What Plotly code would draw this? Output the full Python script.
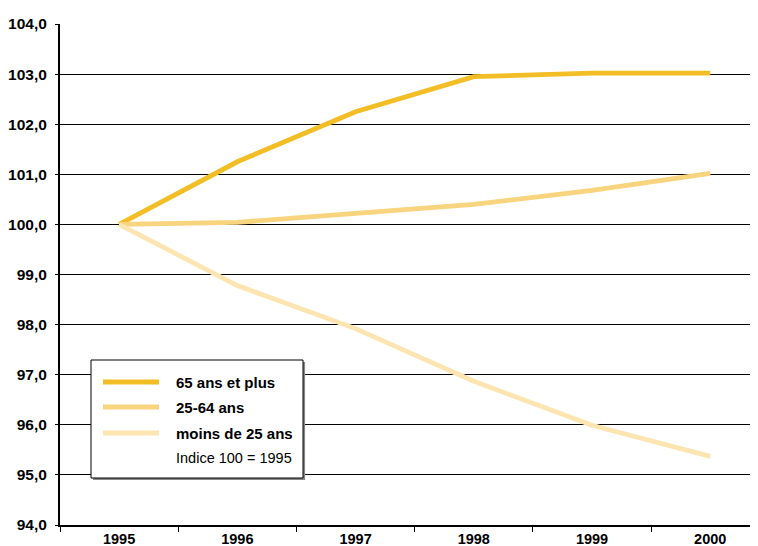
import plotly.graph_objects as go

years = ["1995", "1996", "1997", "1998", "1999", "2000"]
plus65 = [100.0, 101.25, 102.25, 102.95, 103.02, 103.02]
age25_64 = [100.0, 100.04, 100.22, 100.40, 100.68, 101.02]
moins25 = [100.0, 98.78, 97.92, 96.87, 95.99, 95.37]
ytick_vals = [94, 95, 96, 97, 98, 99, 100, 101, 102, 103, 104]
legend_note = "Indice 100 = 1995"

series = [
    ("65 ans et plus", plus65, "#F2BD25"),
    ("25-64 ans", age25_64, "#F9D47E"),
    ("moins de 25 ans", moins25, "#FCE5B0"),
]

# page is rendered with an 8px body margin; compensate
OFF = 8
PL, PR, PT, PB = 60, 758, 24, 525  # plot area in screen px


def px(sx, sy):
    return (sx - PL) / (PR - PL), (PB - sy) / (PB - PT)


fig = go.Figure()
for name, vals, col in series:
    fig.add_trace(go.Scatter(x=years, y=vals, name=name, mode="lines",
                             line=dict(color=col, width=4.8), showlegend=False))

# manual legend box
x0, y0 = px(91, 360)
x1, y1 = px(303, 478)
fig.add_shape(type="rect", xref="paper", yref="paper", x0=x0 + 0.003, y0=y1 - 0.004,
              x1=x1 + 0.003, y1=y0 - 0.004, line=dict(width=0), fillcolor="#888888")
fig.add_shape(type="rect", xref="paper", yref="paper", x0=x0, y0=y1, x1=x1, y1=y0,
              line=dict(color="black", width=1), fillcolor="white")
rows_y = [382, 407, 433, 458]
for (name, vals, col), ry in zip(series, rows_y):
    lx0, ly = px(103, ry)
    lx1, _ = px(159, ry)
    fig.add_shape(type="line", xref="paper", yref="paper", x0=lx0, x1=lx1, y0=ly, y1=ly,
                  line=dict(color=col, width=5))
    tx, ty = px(174, ry)
    fig.add_annotation(xref="paper", yref="paper", x=tx, y=ty, text="<b>" + name + "</b>",
                       showarrow=False, xanchor="left", yanchor="middle",
                       font=dict(size=15, color="black"))
tx, ty = px(174, rows_y[3])
fig.add_annotation(xref="paper", yref="paper", x=tx, y=ty, text=legend_note,
                   showarrow=False, xanchor="left", yanchor="middle",
                   font=dict(size=14.5, color="black"))

fig.update_layout(
    width=758, height=546,
    margin=dict(l=PL - OFF, r=OFF + (758 - PR), t=PT - OFF, b=546 - PB + OFF),
    paper_bgcolor="white", plot_bgcolor="white",
    separators=", ",
    font=dict(family="Liberation Sans, Arial", color="black"),
    showlegend=False,
)
fig.update_xaxes(type="category", range=[-0.5, 5.404], automargin=False,
                 showline=True, linecolor="black", linewidth=2,
                 ticks="outside", tickson="boundaries", ticklen=5, tickcolor="black",
                 showgrid=False, tickfont=dict(size=14.5, weight="bold"))
fig.update_yaxes(range=[94, 104], tickvals=ytick_vals, tickformat=".1f", automargin=False,
                 showline=True, linecolor="black", linewidth=2,
                 showgrid=True, gridcolor="black", gridwidth=1,
                 ticks="outside", ticklen=3, tickcolor="black",
                 zeroline=False, tickfont=dict(size=15.5, weight="bold"),
                 ticklabelstandoff=5)

fig.write_html("out.html")
